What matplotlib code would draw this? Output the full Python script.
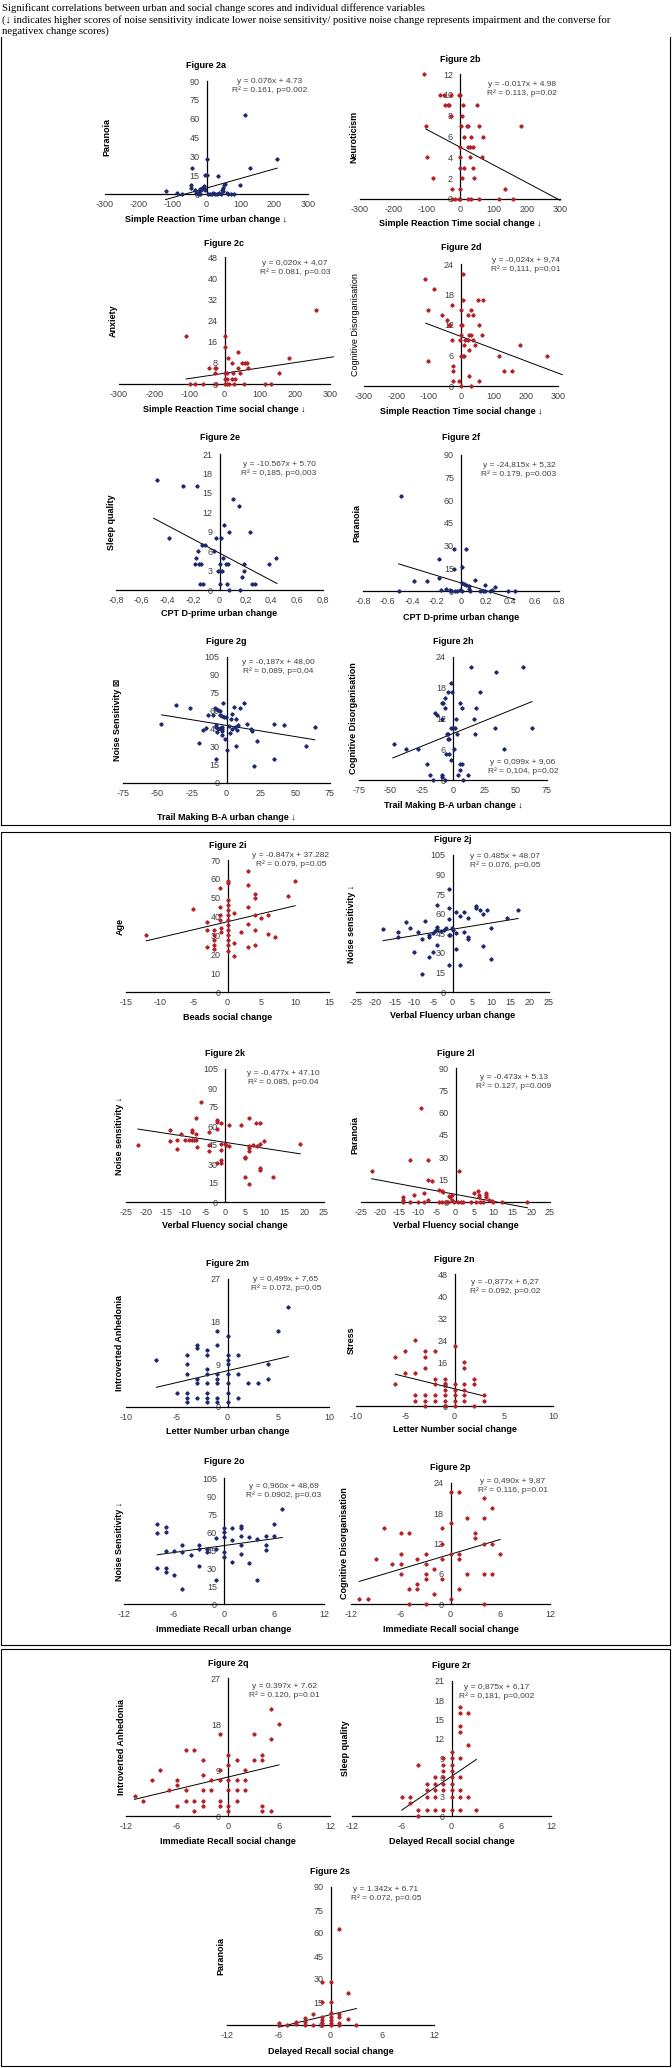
import numpy as np
import matplotlib
matplotlib.use('Agg')
import matplotlib.pyplot as plt
from matplotlib.patches import Rectangle
from matplotlib.lines import Line2D

plt.rcParams['font.family'] = ['Liberation Sans', 'DejaVu Sans']
plt.rcParams['axes.unicode_minus'] = False

W, H = 672, 2068
NAVY = '#1f2a6b'
RED = '#b3232b'
GREY = '#404040'

# ---- datos ----
fig2a_x = [-120, -86, -73, -43, -45, -45, -30, -26, -22, -18, -12, -8, -4, 0, 2, -20, -15, 10, 15, 20,
           25, 30, 35, 38, 42, 45, 48, 52, 56, 60, 65, 72, 80, 100, 114, 129, 209, 5, -5, 50, -35]
fig2a_y = [2, 1, 0, 21, 7, 5, 1, 0, 2, 4, 5, 6, 15, 15.5, 28, 0, 3, 0, 0, 1,
           0, 0, 14, 1, 0, 3, 5, 7, 8, 1, 0, 0, 0, 7, 63, 21, 28, 0, 3, 2, 3]

fig2b_x = [-109, -59, -49, -27, -4, 0, -44, -37, -32, 8, 51, -27, 5, -102, 3, 20, 24, 56, 183, 11, 33, 70,
           0, 23, 30, 38, -100, 0, 31, 65, 0, 13, 38, -82, 6, 43, -25, 0, 135,
           -25, -14, -4, 0, 23, 33, 56, 118, 158]
fig2b_y = [12, 10, 10, 10, 10, 10, 9, 9, 9, 9, 9, 8, 8, 7, 7, 7, 7, 7, 7, 6, 6, 6,
           5, 5, 5, 5, 4, 4, 4, 4, 3, 3, 3, 2, 2, 2, 1, 1, 1,
           0, 0, 0, 0, 0, 0, 0, 0, 0]

fig2c_x = [-109, 0, 0, 9, 37, 21, 51, 57, 63, -43, -28, -24, 37, 68, 182, 156, 261, -27, 0, 7, 23, 43,
           0, 7, 21, 30, -99, -83, -60, -24, 0, 7, 14, 26, 56, 116, 133]
fig2c_y = [18, 18, 14, 10, 12, 8, 8, 8, 8, 6, 6, 6, 6, 6, 10, 4, 28, 4, 4, 4, 4, 4,
           2, 2, 2, 2, 0, 0, 0, 0, 0, 0, 0, 0, 0, 0, 0]

fig2d_x = [-111, -85, 5, -103, -59, -43, -28, 0, 7, 52, 69, 31, 21, 38, -38, -33, 0, 4, 55, 0,
           26, 31, 65, -28, -3, 12, 21, 36, 8, 43, 24, 184, 117, 266, 0, 6, 10, -101, -26, -24,
           132, 158, 24, -24, -5, 57, 0, 31]
fig2d_y = [21, 19, 22, 15, 14, 13, 16, 15, 17, 17, 17, 15, 14, 14, 12, 12, 12, 12, 12, 10,
           10, 10, 10, 9, 9, 9, 9, 9, 8, 8, 7, 8, 6, 6, 6, 6, 6, 5, 4, 3,
           3, 3, 2, 1, 1, 1, 0, 0]

fig2e_x = [-0.485, -0.279, -0.175, 0.108, 0.147, 0.036, 0.07, 0.237, -0.387, -0.026, 0.01, -0.137, -0.111,
           -0.168, -0.039, -0.18, 0.026, 0.436, -0.193, -0.155, -0.142, 0, 0.052, 0.065, 0.186, 0.379,
           -0.015, 0.005, 0.018, 0.186, 0.173, -0.15, -0.13, 0.005, 0.057, 0.25, 0.271, 0.07, 0.16]
fig2e_y = [17, 16, 16, 14, 13, 10, 9, 9, 8, 8, 8, 7, 7,
           6, 6, 5, 5, 5, 4, 4, 4, 4, 4, 4, 4, 4,
           3, 3, 3, 3, 2, 1, 1, 1, 1, 1, 1, 0, 0]

fig2f_x = [-0.487, -0.06, 0.038, -0.18, 0.011, -0.06, -0.182, -0.386, -0.278, 0.112, 0.011, 0.024, 0.044,
           0.063, 0.193, 0.275, -0.509, -0.166, -0.12, -0.093, -0.079, -0.052, -0.033, -0.011, 0.011,
           0.065, 0.076, 0.152, 0.18, 0.193, 0.24, 0.256, 0.384, 0.444]
fig2f_y = [63, 28, 28, 21, 15.6, 14.5, 8.6, 6.4, 6.4, 7.5, 5.3, 4.8, 4.2,
           3.5, 4.2, 2.4, 0, 0.4, 1.3, 0.4, 0, 0, 0, 0.9, 0,
           1.3, 0, 0, 0, 0, 0, 0.9, 0, 0]

fig2g_x = [-47.2, -36.3, -26.6, -19.8, -16.9, -15, -13.3, -8.5, -7.3, -6, -4.8, -9.7, -4.8, -2.9, -1.9,
           -0.5, -2.4, -7.7, -7.3, -6, -4.8, -3.6, -2.9, -6.8, -3.6, -2.9, -1.2, 0, -7.3, 2.4, 1.9, 3.6,
           4.1, 5.6, 6.8, 4.1, 6, 7.7, 8.5, 9.7, 12.8, 6.8, 15, 18.1, 18.6, 19.8, 22.3, 34.4, 34.4, 41.9,
           57.6, 64.1]
fig2g_y = [48.9, 65, 62.8, 33, 44, 45.5, 56.7, 62.8, 61.7, 60.9, 60.3, 56.7, 56.7, 55.9, 54.7,
           55.3, 67, 48.3, 46.4, 44.7, 45.5, 46.4, 44.7, 42.7, 43.6, 40, 36.3, 27.4, 20.4, 41.3, 47.5, 53,
           57.5, 63.7, 53, 44.7, 46.4, 44.1, 48.3, 62.8, 67, 30.7, 49, 44.7, 43.6, 14, 35.2, 48.9, 20.4, 48.3,
           30.7, 46.4]

fig2h_x = [14.1, 34.1, 56.2, -1.9, -3.7, -0.5, 21.3, -9.1, -7.7, 5.6, -6.7, -6.4, 6.9, 18.7, -14.4, -13,
           -9.1, 2.7, 16.8, -1.9, 0, 1.6, -3.7, -5.1, 3.5, 17.6, 33.3, 62.9, -3.2, -4.3, -47.2, -37.3,
           -27.7, 0.8, 40.8, -5.3, -3.2, -1.9, -20.5, 5.3, 7.5, 5.3, -18.4, -8.5, -9.1, 4, 12, -15.7, -6.4, 8.3]
fig2h_y = [22, 21.1, 22, 19, 17.1, 17.1, 17.1, 15, 15, 15, 16, 14, 14, 14, 13, 12.7,
           12, 12, 12, 10.1, 10.1, 10.1, 9, 9, 9, 9, 10.1, 10.1, 8, 8, 7, 6.1,
           6.1, 6.1, 6.1, 5, 5, 4, 3.1, 3.1, 3.1, 2, 1, 1, 0.5, 1, 1, 0, 0, 0]

fig2i_x = [-12, -5.1, -1.1, 0, 0, 3, 3, 4, 4, 3, 0, 0, 0, 0, 0, 0, 0, 0, 0, 0, 0,
           -1.1, -1.1, -1.1, -1, -1, -2, -2, -2, -2, -2, -3, -3, -3, 1, 1, 1, 2, 3, 3, 4, 4, 4, 5,
           6, 6, 7, 9, 10]
fig2i_y = [30, 44, 55, 59, 58, 64.4, 57, 52, 50, 45, 49, 46, 43.6, 41, 38, 35.6, 33, 30, 27.7, 25, 22,
           45, 41, 38, 34, 32, 33, 30, 27.7, 25, 22.7, 37, 33, 24, 41.8, 26, 19, 32, 36, 24, 33, 24.7, 41, 39,
           41, 31, 29, 51, 59]

fig2j_x = [-18, -14, -14, -12, -11, -9, -7, -4, -1, -1, -1, -8, -10, -6, -6, -5, -4.5, -4, -4, -3,
           -2.3, -1.7, -1, -0.7, -0.1, 0, -4, -5, -6, -8, -1, 2, 1, 1, 2, 3, 4, 3, 4, 4,
           1, 6, 6, 7, 8, 9, 8, 10, 10, 14, 17]
fig2j_y = [48, 46, 42, 54, 49, 46, 54.5, 67, 79, 64, 56, 40.5, 31, 44, 42.5, 45, 46.5, 48, 49.7, 46.4,
           47.6, 49, 44, 44, 49, 47.6, 35.7, 31, 27, 14, 20.4, 20.4, 33, 61, 58, 61, 57, 46, 42, 41,
           45, 66, 64.7, 63, 59.6, 63, 35.4, 49, 25, 57, 63]

fig2k_x = [-22, -14, -14, -12, -12, -11, -10, -9, -8.4, -7.8, -8.3, -8.3, -7.2, -7.2, -7.2, -6.1, -7, -4, -4, -4,
           -2, -2, -2, -1, -2, -1, -1, -1, 0, 0.3, -0.9, 1, 1, 4, 6, 6, 6, 6, 5, 5,
           5, 6, 7, 8, 7.9, 8.8, 8.8, 9.9, 8.8, 8.8, 12, 19]
fig2k_y = [45, 57, 48, 49, 42, 54, 49, 49, 49, 49, 57, 55.6, 54, 49, 66.7, 78.7, 43.8, 55, 45, 40,
           65, 63.5, 58, 62.7, 30.7, 32.8, 30.7, 46, 46, 45, 41, 61, 44, 61, 66.7, 44, 42.5, 40.5, 35.4, 34.6,
           19.7, 14, 45, 44.4, 62.7, 62.7, 46, 47.8, 26.8, 25, 19.7, 46]

fig2l_x = [-22.2, -12, -7.2, -9.2, -7.2, -6.3, 1, -4.3, -3.5, -3.2, -14, -14, -14, -11.1, -8.3, -12, -10, -8.3,
           -7.2, -1.8, -1.5, -0.9, -0.9, -4.3, -3.5, -2.6, -2, -0.3, 0.6, 1.4, 2, 5, 5.9, 6.1, 6.1, 8, 8,
           8.2, 4.2, 5.3, 6.5, 7.3, 8.8, 9.7, 10, 12.2, 19]
fig2l_y = [21, 28, 28, 63, 15, 14.3, 21, 8.3, 7.6, 6.7, 3.1, 1.6, 0, 4.9, 6, 0, 0, 0,
           1.6, 3.8, 3.1, 1.6, 4.5, 0, 0, 0, 0, 0, 0, 0, 0, 6, 7.6, 4.5, 3.1, 6, 4.5,
           3.1, 0, 0, 0, 0, 1.6, 0.9, 0, 0, 0]

fig2m_x = [-7, -5, -4, -4, -4, -4, -4, -4, -3, -3, -3, -3, -3, -2, -2, -2, -2, -2, -2, -2, -2,
           -1, -1, -1, -1, -1, -1, -1, 0, 0, 0, 0, 0, 0, 0, 0, 1, 1, 1, 2, 3, 4, 4, 5, 6]
fig2m_y = [10, 3, 11, 9, 7, 3, 2, 1, 13, 12.4, 6, 5, 2, 12, 11, 8, 7, 5, 3, 2, 1,
           16, 13, 5, 2, 1, 7, 6, 15, 11, 10, 9, 7, 5, 3, 1, 11, 7, 2, 5, 5, 9, 6, 16, 21]

fig2n_x = [-6, -6, -5, -4, -5, -4, -4, -4, -3, -3, -3, -3, -3, -3, -2, -2, -2, -2, -2,
           -1, -1, -1, -1, -1, -1, 0, 0, 0, 0, 0, 0, 1, 1, 1, 1, 1, 1, 2, 2, 2, 3, 3]
fig2n_y = [18, 8, 20, 24, 12, 12, 4, 2, 20, 18, 14, 4, 2, 0, 20, 10, 8, 4, 2,
           10, 8, 6, 4, 2, 0, 22, 8, 6, 4, 2, 0, 16, 14, 8, 6, 4, 2, 10, 8, 0, 4, 2]

fig2o_x = [-8, -8, -8, -7, -7, -7, -7, -7, -6, -6, -5, -5, -5, -4, -3, -3, -3, -2, -2, -1, -1, -1,
           0, 0, 0, 0, 0, 1, 1, 1, 2, 2, 2, 2, 2, 3, 3, 4, 4, 5, 5, 5, 6, 6, 7]
fig2o_y = [66.6, 59.4, 30, 63.8, 60, 44, 30, 26.6, 44, 24.4, 49, 43.4, 12.6, 40.6, 49, 46, 32, 46, 43.4,
           46, 19.6, 54.6, 63, 60, 56, 43.4, 39, 63, 35, 53, 65, 63, 56.6, 49, 42, 56, 34, 53.8, 19.6,
           56.6, 49, 45.4, 56.6, 66.6, 79]

fig2p_x = [-11, -10, -9, -8, -7, -6, -5, -6, -6, -6, -5, -4, -5, -4, -4, -3, -3, -3, -3, -3, -2, -2,
           -1, -1, -1, -1, 0, 0, 0, 0, 1, 1, 1, 1, 2, 2, 3, 3, 4, 4, 4, 4, 4, 5, 5, 5, 6]
fig2p_y = [1, 1, 9, 15, 8, 14, 14, 10, 8, 6, 3, 3, 0, 9, 4, 10, 8, 6, 5, 0, 7, 2,
           15, 12, 9, 5, 22.3, 16, 10, 1, 22.3, 10, 9, 3, 17, 6, 14, 13, 21, 17, 12, 6, 0, 19, 12, 6, 10]

fig2q_x = [-11, -10, -9, -8, -7, -6, -6, -6, -5, -5, -5, -4, -4, -4, -3, -3, -3, -3, -3, -2, -2,
           -1, -1, -1, -1, -1, 0, 0, 0, 0, 0, 0, 1, 1, 1, 1, 2, 2, 2, 3, 3, 4, 4, 4, 4, 5, 5, 5, 6]
fig2q_y = [4, 3, 7, 9, 5, 7, 6, 2, 13, 5, 3, 13, 3, 1, 11, 8, 5, 3, 2, 7, 5,
           16, 9, 7, 3, 2, 12, 10, 7, 5, 2, 1, 11, 7, 5, 3, 9, 7, 5, 16, 11, 12, 11, 2, 1, 21, 15, 1, 18]

fig2r_x = [-6, -5, -5, -4, -4, -4, -3, -3, -3, -3, -2, -2, -2, -2, -2, -1, -1, -1, -1, -1, -1, -1,
           0, 0, 0, 0, 0, 0, 0, 0, 0, 1, 1, 1, 1, 1, 1, 1, 1, 1, 2, 2, 2, 3]
fig2r_y = [3, 3, 2, 8, 1, 0, 5, 4, 3, 1, 6, 5, 4, 3, 1, 9, 8, 7, 6, 5, 4, 1,
           10, 9, 8, 7, 6, 5, 4, 3, 1, 17, 16, 14, 13, 9, 6, 4, 3, 1, 16, 11, 3, 1]

fig2s_x = [1, -1, 0, 2, -1, 0, -2, 0, 0, 0, 0, 1, 1, 1, 1, -1, -1, -1, -3, -3, -3, -2, -4, -4,
           -5, -6, -6, 2, 3, -1, 0]
fig2s_y = [62.8, 27.9, 27.9, 20.7, 14.8, 14.8, 7, 7.6, 5.4, 3.3, 1.5, 7, 5.4, 1.5, 0, 5.4, 3.3, 1.5,
           4.8, 2.2, 0, 0, 2.2, 0.7, 0, 1.1, 0, 3.7, 0, 0, 0]

# ticks
xt_rt = [-300, -200, -100, 0, 100, 200, 300]
xt_cpt = [-0.8, -0.6, -0.4, -0.2, 0, 0.2, 0.4, 0.6, 0.8]
xt_tm = [-75, -50, -25, 0, 25, 50, 75]
xt_beads = [-15, -10, -5, 0, 5, 10, 15]
xt_vf = [-25, -20, -15, -10, -5, 0, 5, 10, 15, 20, 25]
xt_ln = [-10, -5, 0, 5, 10]
xt_rec = [-12, -6, 0, 6, 12]

# (nombre, x, y, color, xticks, decimal, yticks, xlabel, ylabel, ylabel_bold, ecuacion, pendiente, intercepto, x0, x1)
panels = [
    ('2a', fig2a_x, fig2a_y, NAVY, xt_rt, None, [0, 15, 30, 45, 60, 75, 90],
     'Simple Reaction Time urban change ↓', 'Paranoia', True,
     'y = 0.076x + 4.73\nR² = 0.161, p=0.002', 0.076, 4.73, -121, 209),
    ('2b', fig2b_x, fig2b_y, RED, xt_rt, None, [0, 2, 4, 6, 8, 10, 12],
     'Simple Reaction Time social change ↓', 'Neuroticism', True,
     'y = -0.017x + 4.98\nR² = 0.113, p=0.02', -0.017, 4.98, -102, 300),
    ('2c', fig2c_x, fig2c_y, RED, xt_rt, None, [0, 8, 16, 24, 32, 40, 48],
     'Simple Reaction Time social change ↓', 'Anxiety', True,
     'y = 0,020x + 4,07\nR² = 0.081, p=0.03', 0.020, 4.07, -109, 310),
    ('2d', fig2d_x, fig2d_y, RED, xt_rt, None, [0, 6, 12, 18, 24],
     'Simple Reaction Time social change ↓', 'Cognitive Disorganisation', False,
     'y = -0,024x + 9,74\nR² = 0,111, p=0,01', -0.024, 9.74, -109, 313),
    ('2e', fig2e_x, fig2e_y, NAVY, xt_cpt, ',', [0, 3, 6, 9, 12, 15, 18, 21],
     'CPT D-prime urban change', 'Sleep quality', True,
     'y = -10.567x + 5.70\nR² = 0,185, p=0,003', -10.567, 5.70, -0.51, 0.444),
    ('2f', fig2f_x, fig2f_y, NAVY, xt_cpt, '.', [0, 15, 30, 45, 60, 75, 90],
     'CPT D-prime urban change', 'Paranoia', True,
     'y = -24,815x + 5,32\nR² = 0.179, p=0.003', -24.815, 5.32, -0.51, 0.44),
    ('2g', fig2g_x, fig2g_y, NAVY, xt_tm, None, [0, 15, 30, 45, 60, 75, 90, 105],
     'Trail Making B-A urban change ↓', 'Noise Sensitivity ⊠', True,
     'y = -0,187x + 48,00\nR² = 0,089, p=0,04', -0.187, 48.00, -47, 64),
    ('2h', fig2h_x, fig2h_y, NAVY, xt_tm, None, [0, 6, 12, 18, 24],
     'Trail Making B-A urban change ↓', 'Cognitive Disorganisation', True,
     'y = 0,099x + 9,06\nR² = 0,104, p=0,02', 0.099, 9.06, -48, 63),
    ('2i', fig2i_x, fig2i_y, RED, xt_beads, None, [0, 10, 20, 30, 40, 50, 60, 70],
     'Beads social change', 'Age', True,
     'y = -0.847x + 37.282\nR² = 0.079, p=0.05', 0.847, 37.282, -12, 10),
    ('2j', fig2j_x, fig2j_y, NAVY, xt_vf, None, [0, 15, 30, 45, 60, 75, 90, 105],
     'Verbal Fluency urban change', 'Noise sensitivity ↓', True,
     'y = 0.485x + 48.07\nR² = 0.076, p=0.05', 0.485, 48.07, -18, 17),
    ('2k', fig2k_x, fig2k_y, RED, xt_vf, None, [0, 15, 30, 45, 60, 75, 90, 105],
     'Verbal Fluency social change', 'Noise sensitivity ↓', True,
     'y = -0.477x + 47.10\nR² = 0.085, p=0.04', -0.477, 47.10, -22, 19),
    ('2l', fig2l_x, fig2l_y, RED, xt_vf, None, [0, 15, 30, 45, 60, 75, 90],
     'Verbal Fluency social change', 'Paranoia', True,
     'y = -0.473x + 5.13\nR² = 0.127, p=0.009', -0.473, 5.13, -22.2, 19),
    ('2m', fig2m_x, fig2m_y, NAVY, xt_ln, None, [0, 9, 18, 27],
     'Letter Number urban change', 'Introverted Anhedonia', True,
     'y = 0,499x + 7,65\nR² = 0.072, p=0.05', 0.499, 7.65, -7, 6),
    ('2n', fig2n_x, fig2n_y, RED, xt_ln, None, [0, 8, 16, 24, 32, 40, 48],
     'Letter Number social change', 'Stress', True,
     'y = -0,877x + 6,27\nR² = 0.092, p=0.02', -0.877, 6.27, -6, 3),
    ('2o', fig2o_x, fig2o_y, NAVY, xt_rec, None, [0, 15, 30, 45, 60, 75, 90, 105],
     'Immediate Recall urban change', 'Noise Sensitivity ↓', True,
     'y = 0,960x + 48,69\nR² = 0.0902, p=0.03', 0.960, 48.69, -8, 7),
    ('2p', fig2p_x, fig2p_y, RED, xt_rec, None, [0, 6, 12, 18, 24],
     'Immediate Recall social change', 'Cognitive Disorganisation', True,
     'y = 0,490x + 9,87\nR² = 0.116, p=0.01', 0.490, 9.87, -11, 6),
    ('2q', fig2q_x, fig2q_y, RED, xt_rec, None, [0, 9, 18, 27],
     'Immediate Recall social change', 'Introverted Anhedonia', True,
     'y = 0.397x + 7.62\nR² = 0.120, p=0.01', 0.397, 7.62, -11, 6),
    ('2r', fig2r_x, fig2r_y, RED, xt_rec, None, [0, 3, 6, 9, 12, 15, 18, 21],
     'Delayed Recall social change', 'Sleep quality', True,
     'y = 0,875x + 6,17\nR² = 0,181, p=0,002', 0.875, 6.17, -6, 3),
    ('2s', fig2s_x, fig2s_y, RED, xt_rec, None, [0, 15, 30, 45, 60, 75, 90],
     'Delayed Recall social change', 'Paranoia', True,
     'y = 1.342x + 6.71\nR² = 0.072, p=0.05', 1.342, 6.71, -6, 3),
]

# posiciones en pixeles: L, R, T, B, titulo_y, xlabel_y, ylabel_x, eq_x, eq_y
layout = {
    '2a': (105, 308, 81, 194, 65, 220, 107, 270, 86),
    '2b': (360, 560, 74, 199, 60, 223, 354, 522, 89),
    '2c': (119, 330, 257, 384, 243, 410, 113, 295, 268),
    '2d': (364, 558, 264, 386, 247, 411, 356, 526, 265),
    '2e': (116, 323, 454, 590, 438, 614, 112, 279, 469),
    '2f': (363, 559, 455, 591, 438, 617, 357, 519, 470),
    '2g': (123, 330, 657, 783, 642, 817, 117, 278, 667),
    '2h': (359, 547, 657, 780, 642, 805, 353, 523, 767),
    '2i': (126, 329, 860, 992, 845, 1017, 120, 291, 860),
    '2j': (356, 549, 855, 992, 840, 1016, 351, 505, 861),
    '2k': (126, 324, 1069, 1202, 1054, 1226, 120, 283, 1078),
    '2l': (361, 550, 1068, 1202, 1053, 1226, 355, 514, 1082),
    '2m': (126, 329, 1279, 1407, 1263, 1432, 120, 286, 1284),
    '2n': (356, 553, 1274, 1406, 1259, 1430, 351, 505, 1287),
    '2o': (124, 324, 1478, 1604, 1462, 1629, 119, 284, 1491),
    '2p': (351, 550, 1483, 1604, 1467, 1629, 345, 513, 1486),
    '2q': (126, 330, 1678, 1816, 1663, 1841, 121, 284, 1691),
    '2r': (352, 551, 1681, 1816, 1665, 1841, 346, 497, 1692),
    '2s': (227, 434, 1887, 2025, 1872, 2052, 221, 386, 1894),
}


def fx(px):
    return px / W


def fy(py):
    return 1 - py / H


def tick_text(v, dec):
    if dec is None:
        return f'{v:g}'
    if abs(v) < 1e-9:
        return '0'
    return f'{v:.1f}'.replace('.', dec)


fig = plt.figure(figsize=(W / 100, H / 100), dpi=100)

# cabecera
head_font = ['Liberation Serif', 'DejaVu Serif']
fig.text(fx(2), fy(8), 'Significant correlations between urban and social change scores and individual difference variables',
         fontsize=7.7, family=head_font, va='center')
fig.text(fx(2), fy(20), '(↓ indicates higher scores of noise sensitivity indicate lower noise sensitivity/ positive noise change '
         'represents impairment and the converse for', fontsize=7.7, family=head_font, va='center')
fig.text(fx(2), fy(31), 'negativex change scores)', fontsize=7.7, family=head_font, va='center')

# marcos
for y0, y1, top in [(37, 825, False), (832, 1645, True), (1649, 2066, True)]:
    if top:
        fig.add_artist(Rectangle((fx(1), fy(y1)), fx(669), (y1 - y0) / H, fill=False,
                                 edgecolor='black', lw=0.8, transform=fig.transFigure))
    else:
        for xs, ys in [([1, 1], [y0, y1]), ([670, 670], [y0, y1]), ([1, 670], [y1, y1])]:
            fig.add_artist(Line2D([fx(v) for v in xs], [fy(v) for v in ys], color='black', lw=0.8))

for (name, xs, ys, col, xticks, dec, yticks, xlab, ylab, ybold, eq, slope, icpt, x0, x1) in panels:
    L, R, T, B, ty, xly, ylx, eqx, eqy = layout[name]
    ax = fig.add_axes([fx(L), fy(B), (R - L) / W, (B - T) / H])
    ax.set_xlim(xticks[0], xticks[-1])
    ax.set_ylim(yticks[0], yticks[-1])
    ax.spines['left'].set_position(('data', 0))
    ax.spines['top'].set_visible(False)
    ax.spines['right'].set_visible(False)
    for s in ('left', 'bottom'):
        ax.spines[s].set_linewidth(0.9)
    ax.patch.set_visible(False)
    ax.set_xticks(xticks)
    ax.set_xticklabels([tick_text(v, dec) for v in xticks])
    ax.set_yticks(yticks)
    ax.set_yticklabels([f'{v:g}' for v in yticks])
    ax.tick_params(axis='both', length=0, labelsize=6.5, labelcolor=GREY)
    ax.tick_params(axis='y', pad=5)
    ax.tick_params(axis='x', pad=4)

    ax.plot(xs, ys, 'D', ms=1.7, color=col, mec=col, clip_on=False, zorder=3)
    lx = np.array([x0, x1])
    ax.plot(lx, slope * lx + icpt, color='black', lw=0.7, clip_on=False, zorder=2)

    cx = (L + R) / 2
    fig.text(fx(cx), fy(ty), 'Figure ' + name, fontsize=6.5, fontweight='bold', ha='center', va='center')
    fig.text(fx(cx), fy(xly), xlab, fontsize=6.5, fontweight='bold', ha='center', va='center')
    fig.text(fx(ylx), fy((T + B) / 2), ylab, fontsize=6.5, fontweight='bold' if ybold else 'normal',
             rotation=90, ha='center', va='center')
    fig.text(fx(eqx), fy(eqy), eq, fontsize=6, color=GREY, ha='center', va='center', linespacing=1.15)

fig.savefig('out.png', dpi=100)
